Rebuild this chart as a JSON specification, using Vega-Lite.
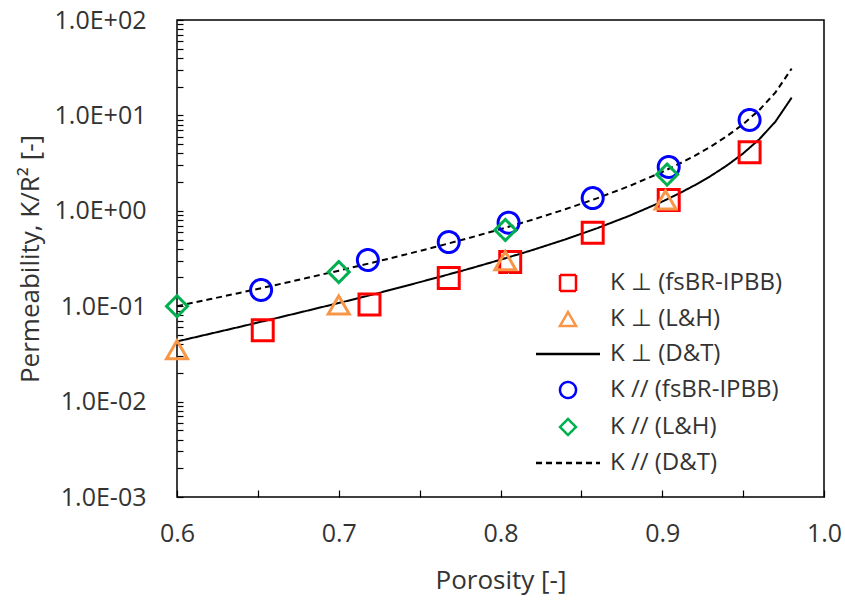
{
  "$schema": "https://vega.github.io/schema/vega-lite/v6.json",
  "width": 647,
  "height": 477,
  "autosize": {"type": "none"},
  "padding": {"left": 177, "top": 20, "right": 21, "bottom": 105},
  "background": "white",
  "config": {
    "font": "Open Sans",
    "view": {"stroke": "black", "strokeWidth": 1.5},
    "axis": {
      "grid": false,
      "domain": false,
      "tickColor": "black",
      "tickWidth": 1.2,
      "labelFont": "Open Sans",
      "labelFontSize": 25,
      "labelColor": "#333333",
      "titleFont": "Open Sans",
      "titleFontSize": 26,
      "titleFontWeight": "normal",
      "titleColor": "#333333"
    },
    "legend": {
      "orient": "none",
      "legendX": 379,
      "legendY": 251,
      "title": null,
      "labelFont": "Open Sans",
      "labelFontSize": 24,
      "labelColor": "#333333",
      "labelLimit": 400,
      "symbolSize": 256,
      "symbolStrokeWidth": 2.5,
      "rowPadding": 11,
      "labelOffset": 30
    }
  },
  "datasets": {
    "pts": [
      {"p": 0.653, "k": 0.056, "s": "K ⊥  (fsBR-IPBB)"},
      {"p": 0.719, "k": 0.104, "s": "K ⊥  (fsBR-IPBB)"},
      {"p": 0.768, "k": 0.197, "s": "K ⊥  (fsBR-IPBB)"},
      {"p": 0.806, "k": 0.29, "s": "K ⊥  (fsBR-IPBB)"},
      {"p": 0.857, "k": 0.59, "s": "K ⊥  (fsBR-IPBB)"},
      {"p": 0.904, "k": 1.3, "s": "K ⊥  (fsBR-IPBB)"},
      {"p": 0.954, "k": 4.1, "s": "K ⊥  (fsBR-IPBB)"},
      {"p": 0.6, "k": 0.035, "s": "K ⊥  (L&H)"},
      {"p": 0.7, "k": 0.103, "s": "K ⊥  (L&H)"},
      {"p": 0.803, "k": 0.3, "s": "K ⊥  (L&H)"},
      {"p": 0.902, "k": 1.3, "s": "K ⊥  (L&H)"},
      {"p": 0.652, "k": 0.148, "s": "K //  (fsBR-IPBB)"},
      {"p": 0.718, "k": 0.305, "s": "K //  (fsBR-IPBB)"},
      {"p": 0.768, "k": 0.47, "s": "K //  (fsBR-IPBB)"},
      {"p": 0.805, "k": 0.75, "s": "K //  (fsBR-IPBB)"},
      {"p": 0.857, "k": 1.36, "s": "K //  (fsBR-IPBB)"},
      {"p": 0.904, "k": 2.88, "s": "K //  (fsBR-IPBB)"},
      {"p": 0.954, "k": 8.96, "s": "K //  (fsBR-IPBB)"},
      {"p": 0.6, "k": 0.1, "s": "K //  (L&H)"},
      {"p": 0.7, "k": 0.228, "s": "K //  (L&H)"},
      {"p": 0.803, "k": 0.63, "s": "K //  (L&H)"},
      {"p": 0.903, "k": 2.4, "s": "K //  (L&H)"}
    ],
    "lines": [
      {"p": 0.60, "k": 0.0427, "s": "K ⊥  (D&T)"},
      {"p": 0.62, "k": 0.0512, "s": "K ⊥  (D&T)"},
      {"p": 0.64, "k": 0.0614, "s": "K ⊥  (D&T)"},
      {"p": 0.66, "k": 0.0740, "s": "K ⊥  (D&T)"},
      {"p": 0.68, "k": 0.0893, "s": "K ⊥  (D&T)"},
      {"p": 0.70, "k": 0.108, "s": "K ⊥  (D&T)"},
      {"p": 0.72, "k": 0.131, "s": "K ⊥  (D&T)"},
      {"p": 0.74, "k": 0.161, "s": "K ⊥  (D&T)"},
      {"p": 0.76, "k": 0.198, "s": "K ⊥  (D&T)"},
      {"p": 0.78, "k": 0.245, "s": "K ⊥  (D&T)"},
      {"p": 0.80, "k": 0.307, "s": "K ⊥  (D&T)"},
      {"p": 0.82, "k": 0.389, "s": "K ⊥  (D&T)"},
      {"p": 0.84, "k": 0.501, "s": "K ⊥  (D&T)"},
      {"p": 0.86, "k": 0.659, "s": "K ⊥  (D&T)"},
      {"p": 0.88, "k": 0.891, "s": "K ⊥  (D&T)"},
      {"p": 0.90, "k": 1.249, "s": "K ⊥  (D&T)"},
      {"p": 0.91, "k": 1.508, "s": "K ⊥  (D&T)"},
      {"p": 0.92, "k": 1.851, "s": "K ⊥  (D&T)"},
      {"p": 0.93, "k": 2.319, "s": "K ⊥  (D&T)"},
      {"p": 0.94, "k": 2.987, "s": "K ⊥  (D&T)"},
      {"p": 0.95, "k": 3.991, "s": "K ⊥  (D&T)"},
      {"p": 0.96, "k": 5.625, "s": "K ⊥  (D&T)"},
      {"p": 0.97, "k": 8.617, "s": "K ⊥  (D&T)"},
      {"p": 0.98, "k": 15.34, "s": "K ⊥  (D&T)"},
      {"p": 0.60, "k": 0.1002, "s": "K //  (D&T)"},
      {"p": 0.62, "k": 0.1180, "s": "K //  (D&T)"},
      {"p": 0.64, "k": 0.1395, "s": "K //  (D&T)"},
      {"p": 0.66, "k": 0.1655, "s": "K //  (D&T)"},
      {"p": 0.68, "k": 0.1971, "s": "K //  (D&T)"},
      {"p": 0.70, "k": 0.2358, "s": "K //  (D&T)"},
      {"p": 0.72, "k": 0.2837, "s": "K //  (D&T)"},
      {"p": 0.74, "k": 0.3435, "s": "K //  (D&T)"},
      {"p": 0.76, "k": 0.4191, "s": "K //  (D&T)"},
      {"p": 0.78, "k": 0.5158, "s": "K //  (D&T)"},
      {"p": 0.80, "k": 0.6418, "s": "K //  (D&T)"},
      {"p": 0.82, "k": 0.8092, "s": "K //  (D&T)"},
      {"p": 0.84, "k": 1.0372, "s": "K //  (D&T)"},
      {"p": 0.86, "k": 1.3577, "s": "K //  (D&T)"},
      {"p": 0.88, "k": 1.8272, "s": "K //  (D&T)"},
      {"p": 0.90, "k": 2.554, "s": "K //  (D&T)"},
      {"p": 0.91, "k": 3.078, "s": "K //  (D&T)"},
      {"p": 0.92, "k": 3.770, "s": "K //  (D&T)"},
      {"p": 0.93, "k": 4.717, "s": "K //  (D&T)"},
      {"p": 0.94, "k": 6.065, "s": "K //  (D&T)"},
      {"p": 0.95, "k": 8.092, "s": "K //  (D&T)"},
      {"p": 0.96, "k": 11.39, "s": "K //  (D&T)"},
      {"p": 0.97, "k": 17.42, "s": "K //  (D&T)"},
      {"p": 0.98, "k": 30.95, "s": "K //  (D&T)"}
    ]
  },
  "encoding": {
    "x": {
      "field": "p",
      "type": "quantitative",
      "scale": {"domain": [0.6, 1.0], "nice": false, "zero": false},
      "axis": {
        "title": "Porosity [-]",
        "values": [0.6, 0.65, 0.7, 0.75, 0.8, 0.85, 0.9, 0.95, 1.0],
        "labelExpr": "(round(datum.value*100) % 10 == 0) ? format(datum.value, '.1f') : ''",
        "offset": -7,
        "tickSize": 7,
        "labelPadding": 24,
        "titlePadding": 21,
        "labelFlush": false,
        "labelOverlap": false
      }
    },
    "y": {
      "field": "k",
      "type": "quantitative",
      "scale": {"type": "log", "domain": [0.001, 100], "nice": false},
      "axis": {
        "title": "Permeability, K/R² [-]",
        "values": [0.001, 0.002, 0.003, 0.004, 0.005, 0.006, 0.007, 0.008, 0.009, 0.01, 0.02, 0.03, 0.04, 0.05, 0.06, 0.07, 0.08, 0.09, 0.1, 0.2, 0.3, 0.4, 0.5, 0.6, 0.7, 0.8, 0.9, 1, 2, 3, 4, 5, 6, 7, 8, 9, 10, 20, 30, 40, 50, 60, 70, 80, 90, 100],
        "labelExpr": "abs(log(datum.value)/LN10 - round(log(datum.value)/LN10)) < 0.000001 ? '1.0E' + (datum.value >= 1 ? '+' : '-') + '0' + abs(round(log(datum.value)/LN10)) : ''",
        "offset": -6,
        "tickSize": 6,
        "labelPadding": 31,
        "titlePadding": 11,
        "labelFlush": false,
        "labelOverlap": false
      }
    },
    "color": {
      "field": "s",
      "type": "nominal",
      "scale": {
        "domain": ["K ⊥  (fsBR-IPBB)", "K ⊥  (L&H)", "K ⊥  (D&T)", "K //  (fsBR-IPBB)", "K //  (L&H)", "K //  (D&T)"],
        "range": ["#FF0000", "#F79646", "#000000", "#0000FF", "#00B050", "#000000"]
      }
    },
    "strokeDash": {
      "field": "s",
      "type": "nominal",
      "scale": {
        "domain": ["K ⊥  (fsBR-IPBB)", "K ⊥  (L&H)", "K ⊥  (D&T)", "K //  (fsBR-IPBB)", "K //  (L&H)", "K //  (D&T)"],
        "range": [[1, 0], [1, 0], [1, 0], [1, 0], [1, 0], [6, 4]]
      }
    }
  },
  "layer": [
    {
      "data": {"name": "lines"},
      "mark": {"type": "line", "strokeWidth": 2}
    },
    {
      "data": {"name": "pts"},
      "mark": {"type": "point", "filled": false, "size": 440, "strokeWidth": 3, "opacity": 1},
      "encoding": {
        "shape": {
          "field": "s",
          "type": "nominal",
          "scale": {
            "domain": ["K ⊥  (fsBR-IPBB)", "K ⊥  (L&H)", "K ⊥  (D&T)", "K //  (fsBR-IPBB)", "K //  (L&H)", "K //  (D&T)"],
            "range": ["square", "triangle-up", "M-4,0H4", "circle", "diamond", "M-4,0H4"]
          }
        }
      }
    }
  ]
}
